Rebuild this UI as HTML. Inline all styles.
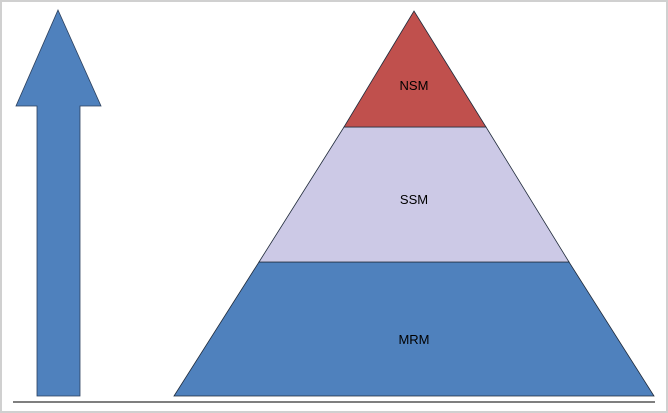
<!DOCTYPE html>
<html><head><style>
html,body{margin:0;padding:0;background:#fff;}
svg{display:block;}
text{font-family:"Liberation Sans",sans-serif;font-size:13px;fill:#000;}
</style></head><body>
<svg width="668" height="413" viewBox="0 0 668 413" xmlns="http://www.w3.org/2000/svg">
<rect x="1" y="1" width="666" height="411" fill="#fff" stroke="#d0d0d0" stroke-width="2"/>
<polygon points="58,10 101,106 80,106 80,396 37,396 37,106 16,106" fill="#4f81bd" stroke="#2b3f5c" stroke-width="0.8"/>
<polygon points="174,396 654,396 569,262 259,262" fill="#4f81bd" stroke="#1f2a3a" stroke-width="0.8"/>
<polygon points="259,262 569,262 486,127 344,127" fill="#ccc9e6" stroke="#1f2a3a" stroke-width="0.8"/>
<polygon points="344,127 486,127 414,11" fill="#c0504d" stroke="#1f2a3a" stroke-width="0.8"/>
<line x1="13" y1="402" x2="655" y2="402" stroke="#555" stroke-width="1.5"/>
<text x="414" y="90" text-anchor="middle">NSM</text>
<text x="414" y="204" text-anchor="middle">SSM</text>
<text x="414" y="344" text-anchor="middle">MRM</text>
</svg>
</body></html>
